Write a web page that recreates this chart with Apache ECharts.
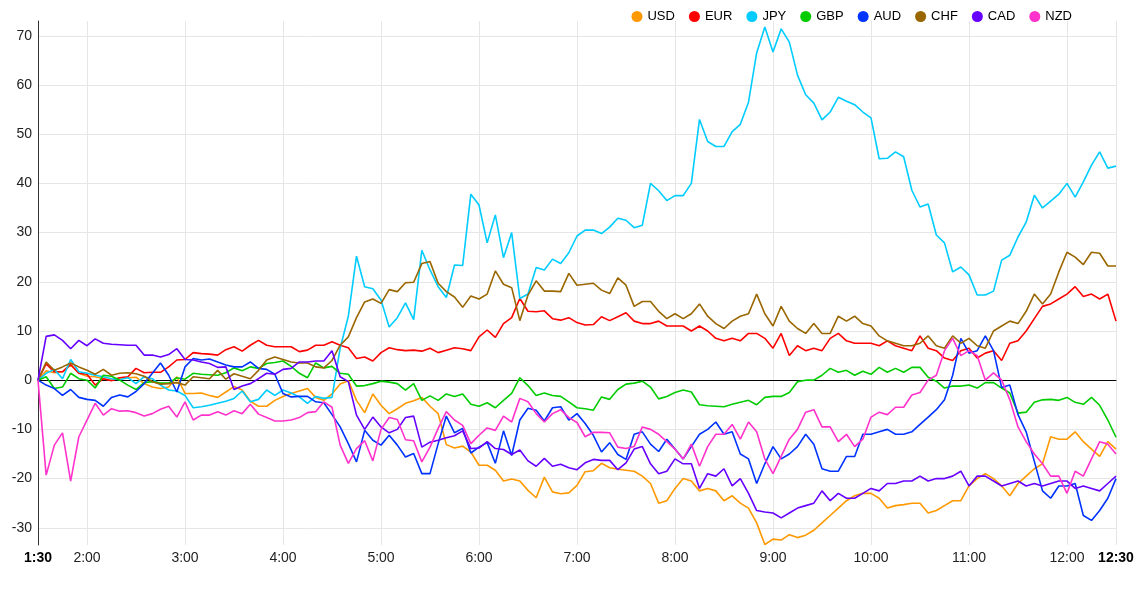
<!DOCTYPE html>
<html>
<head>
<meta charset="utf-8">
<title>Currency strength 1:30 - 12:30</title>
<script src="https://cdn.jsdelivr.net/npm/echarts@6/dist/echarts.min.js"></script>
<style>
  html, body { margin: 0; padding: 0; background: #fff; }
  #main { width: 1137px; height: 594px; }
</style>
</head>
<body>
<div id="main"></div>
<script>
// categories: one point every 5 minutes, 1:30 .. 12:30
const times = []
for (let m = 90; m <= 750; m += 5) {
  times.push(Math.floor(m / 60) + ':' + String(m % 60).padStart(2, '0'))
}

const names = ['USD', 'EUR', 'JPY', 'GBP', 'AUD', 'CHF', 'CAD', 'NZD']
const colors = ['#ff9900', '#ff0000', '#00ccff', '#00cc00', '#0033ff', '#996600', '#6600ff', '#ff33cc']

const usd = [0, 1.9, 1.5, 1.7, 3.1, 1.4, 0.8, 0.7, 0.3, 0, 0.5, 0.5, 0.6,
  -0.7, -1.4, -1.7, -1.4, 0.7, -2.7, -2.7, -2.6, -3.1, -3.5, -2.4, -1.3,
  -2.0, -4.3, -5.3, -5.3, -4.1, -3.3, -2.7, -2.2, -1.7, -3.5, -4.1, -2.8,
  -0.8, -0.1, -4.1, -6.6, -2.8, -5.1, -6.8, -5.8, -4.7, -4.2, -3.5, -5.3,
  -6.8, -13.1, -13.8, -13.4, -14.6, -17.3, -17.3, -18.3, -20.5, -20.1, -20.5, -22.4,
  -23.9, -19.7, -22.7, -23.1, -22.9, -21.4, -18.6, -18.4, -16.9, -17.8, -18.1, -18.3,
  -18.5, -19.5, -21, -25, -24.5, -22, -20, -20.5, -22.5, -22, -22.5, -24.5,
  -23.5, -25, -26, -29, -33.4, -32.3, -32.5, -31.4, -32.0, -31.5, -30.5, -29,
  -27.5, -26, -24.5, -23.5, -23, -23, -24, -26, -25.5, -25.3, -25, -25,
  -27, -26.5, -25.5, -24.5, -24.5, -21.5, -20, -19, -20, -21.5, -23.5, -21,
  -19.5, -18, -17, -11.5, -12, -12, -10.5, -12.5, -14, -15.5, -12.5, -14]

const eur = [0, 3.3, 1.7, 1.7, 3.2, 1.4, 1.2, -1.0, 0.3, -0.1, 0.5, 0.7, 2.4,
  1.5, 1.6, 1.6, 2.7, 4.1, 4.2, 5.6, 5.4, 5.3, 5.1, 6.2, 6.8,
  5.9, 7.1, 8.1, 7.1, 6.8, 6.8, 6.8, 5.8, 6.1, 7.1, 7.1, 7.8,
  7.1, 6.6, 4.4, 4.7, 3.9, 5.6, 6.6, 6.2, 6.0, 6.1, 5.9, 6.5,
  5.6, 6.1, 6.6, 6.4, 6.0, 8.8, 10.2, 8.7, 11.5, 12.7, 16.6, 14.0,
  13.9, 14.1, 12.5, 12.2, 12.7, 11.7, 11.2, 11.3, 12.9, 12.1, 12.9, 13.7,
  12, 11.5, 11.5, 12, 11, 11, 11, 10, 11, 10, 8.5, 8,
  8.5, 8, 9.5, 9.5, 8.5, 6.5, 9.5, 5, 7, 6, 6.5, 6,
  8.5, 9.5, 8, 7.5, 7.5, 7.5, 7, 8, 7, 6.5, 6, 9,
  6.5, 6, 4.5, 4, 6, 6.5, 4.5, 5.5, 6, 4, 7.5, 8,
  10, 12.5, 15, 15.5, 16.5, 17.5, 19, 17, 17.5, 16.5, 17.5, 12]

const jpy = [0, 1.4, 2.2, 0.3, 4.2, 1.7, 1.4, 1.0, 0.7, 0.3, 0.1, 0.5, -0.7,
  0.7, 0.3, -1.0, -2.0, -2.2, -3.1, -5.6, -5.4, -5.1, -4.7, -4.3, -3.7,
  -2.2, -4.4, -3.9, -2.0, -3.1, -2.0, -2.6, -3.4, -4.7, -3.3, -3.7, -3.5,
  6.5, 13, 25.2, 19.0, 18.6, 16.3, 10.8, 12.7, 15.7, 12.3, 26.4, 22.4,
  19.0, 16.8, 23.4, 23.3, 37.8, 35.6, 27.9, 33.6, 24.9, 30.0, 16.6, 17.5,
  22.9, 22.4, 24.6, 23.7, 25.9, 29.3, 30.5, 30.5, 29.8, 31.1, 32.9, 32.5,
  31, 31.5, 40, 38.5, 36.5, 37.5, 37.5, 40, 53, 48.5, 47.5, 47.5,
  50.5, 52, 56.5, 66.5, 71.8, 66.7, 71.4, 68.7, 62, 58, 56.3, 52.9,
  54.5, 57.5, 56.7, 56, 54.5, 53.3, 45, 45.1, 46.4, 45.4, 38.6, 35.2,
  35.8, 29.5, 27.9, 22, 23, 21.4, 17.3, 17.3, 18.1, 24.4, 25.4, 29.1,
  32.1, 37.6, 35, 36.4, 37.8, 40, 37.2, 40.3, 43.7, 46.4, 43.1, 43.5]

const gbp = [0, 0.7, -1.7, -1.4, 1.4, 0.3, 0, -1.6, 1.0, 0.8, 0, -1.0, -1.9,
  -0.5, -0.3, -0.6, -0.6, 0.5, 0.2, 1.4, 1.2, 1.1, 1.0, 1.5, 2.5,
  1.9, 2.7, 2.4, 3.4, 3.6, 3.9, 2.8, 1.4, 0.5, 3.5, 2.5, 2.8,
  1.4, 1.2, -1.2, -1.1, -0.7, -0.2, -0.4, -0.7, -2.0, -0.7, -4.1, -3.2,
  -4.1, -2.8, -3.3, -2.8, -4.9, -5.3, -4.6, -5.6, -4.1, -2.7, 0.5, -1.1,
  -3.1, -2.6, -3.1, -3.3, -4.4, -5.6, -5.8, -6.1, -3.4, -3.9, -1.9, -0.8,
  -0.6, -0.2, -1.4, -3.8, -3.3, -2.5, -2.0, -2.4, -5.0, -5.2, -5.3, -5.4,
  -4.9, -4.5, -4.1, -5.0, -3.5, -3.3, -3.3, -2.5, -0.3, 0, 0, 1.0,
  2.4, 1.6, 2.0, 1.0, 1.8, 1.2, 2.6, 1.6, 2.4, 1.6, 2.6, 2.6,
  0.6, -0.2, -1.6, -1.2, -1.2, -1.0, -1.6, -0.5, -0.5, -1.6, -2.6, -6.7,
  -6.5, -4.5, -4.0, -3.9, -4.1, -3.5, -4.5, -4.9, -3.5, -5.1, -8.1, -11.6]

const aud = [0, -1.0, -1.7, -3.1, -1.9, -3.5, -3.9, -4.1, -5.3, -3.5, -3.0, -3.4, -2.3,
  -0.7, 1.4, 3.5, 1.0, -2.4, 2.7, 4.4, 4.1, 4.3, 3.7, 3.1, 2.7,
  2.7, 3.7, 2.4, 2.2, 1.2, -2.7, -3.4, -3.3, -3.3, -4.4, -4.6, -7.0,
  -9.5, -12.9, -16.6, -10.2, -12.2, -13.2, -11.2, -13.2, -15.6, -14.9, -19.0, -19.0,
  -12.9, -7.3, -10.7, -9.8, -14.8, -13.6, -12.7, -16.9, -10.3, -15.3, -8.1, -5.7,
  -6.1, -8.3, -5.6, -5.4, -8.1, -6.8, -8.8, -11.2, -14.6, -12.7, -15.1, -16.1,
  -11, -10.5, -13, -14.5, -12, -14, -16, -13.5, -11, -10, -8.5, -11,
  -10.5, -15, -16, -21, -17, -13.5, -16, -15, -13.5, -11, -13, -18,
  -18.5, -18.5, -15.5, -15.5, -11, -11, -10.5, -10, -11, -11, -10.5, -9,
  -7.5, -6, -4, 1, 8.5, 5.5, 6, 9, 6, -1.5, -1, -7,
  -10.5, -16.5, -22.5, -24, -21.5, -21.5, -21, -27.5, -28.5, -26.5, -24, -20]

const chf = [0, 3.7, 2.0, 2.7, 3.5, 2.7, 2.0, 1.2, 2.2, 1.0, 1.4, 1.5, 1.3,
  0.8, -0.3, -0.8, -0.7, -0.5, -1.0, 0.7, 0.5, 0.3, 2.0, 0.2, 1.3,
  0.8, 0.3, 2.0, 4.1, 4.7, 4.2, 3.7, 3.5, 3.5, 2.7, 2.5, 4.0,
  7.1, 8.8, 12.7, 15.9, 16.5, 15.6, 18.4, 18.0, 19.8, 19.9, 23.7, 24.1,
  19.7, 18.0, 16.9, 14.8, 17.1, 16.5, 17.5, 22.2, 19.5, 18.8, 12.1, 17.3,
  20.2, 18.1, 18.1, 18.0, 21.7, 19.3, 19.5, 19.7, 18.3, 17.6, 20.8, 19.3,
  15, 16, 16, 14, 12.5, 13.5, 12.5, 13.5, 15.5, 13, 11.5, 10.5,
  12, 13, 13.5, 17.5, 13.5, 11, 15, 12, 10.5, 9.5, 11.5, 9.5,
  9.5, 13, 12, 13, 11.5, 11, 9, 8, 7.5, 7, 7, 7.5,
  9, 7, 6.5, 9, 7.5, 8.5, 7, 6.5, 10, 11, 12, 11.5,
  14, 17.5, 15.5, 17.5, 22, 26, 25, 23.5, 26, 25.8, 23.2, 23.2]

const cad = [0, 8.9, 9.2, 8.1, 6.4, 8.1, 7.0, 8.4, 7.5, 7.3, 7.2, 7.1, 7.1,
  5.1, 5.1, 4.7, 5.2, 6.4, 4.2, 4.1, 3.7, 3.4, 2.6, 2.7, -1.9,
  -1.2, -0.7, 0.3, 1.4, 1.2, 2.2, 2.4, 3.7, 3.7, 3.9, 3.9, 6.0,
  0.7, -0.3, -7.1, -10.0, -7.5, -9.5, -10.7, -10.0, -7.6, -7.3, -13.6, -12.6,
  -12.2, -11.7, -11.3, -10.3, -13.9, -13.8, -12.5, -13.9, -14.1, -15.1, -14.2, -16.4,
  -17.5, -15.9, -17.5, -17.1, -17.8, -18.2, -16.8, -16.1, -16.3, -16.3, -18.2, -16.8,
  -14, -13.5, -17, -19, -18.5, -16, -17, -17, -22, -19, -19.5, -18,
  -21.5, -20, -23, -26.5, -26.8, -27, -28, -27, -26, -25.5, -25, -22.5,
  -24.5, -23, -24, -24, -23, -22, -22.5, -21, -21, -20.5, -20.5, -19.5,
  -20.5, -20, -20, -19.5, -18.5, -21.5, -19.5, -19.5, -20.5, -21.5, -21, -20.5,
  -21.5, -21, -21.5, -21, -20.5, -20.5, -22, -21.5, -22, -22.5, -21, -19.5]

const nzd = [0, -19.3, -13.2, -10.7, -20.5, -11.5, -8.1, -4.7, -7.1, -5.8, -6.3, -6.2, -6.6,
  -7.3, -6.8, -5.9, -5.3, -7.5, -4.4, -8.1, -7.1, -7.1, -6.4, -7.1, -6.2,
  -6.8, -4.9, -6.9, -7.6, -8.3, -8.3, -8.1, -7.6, -6.6, -6.4, -4.4, -5.5,
  -13.2, -16.9, -13.9, -12.3, -16.4, -10.0, -7.6, -8.0, -12.1, -12.3, -16.6, -13.6,
  -9.8, -6.4, -8.1, -9.2, -12.9, -11.2, -9.7, -10.2, -7.3, -8.5, -3.7, -4.4,
  -6.8, -8.5, -6.8, -6.0, -7.6, -8.6, -11.5, -10.6, -10.6, -10.7, -13.6, -13.9,
  -13.5, -9.5, -10, -11, -12.5, -14, -16, -13, -17.5, -13.5, -11, -11,
  -9, -12, -8.5, -10.5, -16, -19, -15.5, -12, -10, -6.5, -6, -9.5,
  -9.5, -12.5, -11, -13.5, -12, -7.5, -6.5, -7, -5.5, -5.5, -3, -2.5,
  0, 1, 6, 8.5, 5, 6, 5, 0, 1.5, 0, -4, -9.5,
  -12.5, -15, -17, -19.5, -19.5, -23, -18.5, -19.5, -16, -12.5, -13, -15]

const values = [usd, eur, jpy, gbp, aud, chf, cad, nzd]

const font = 'Liberation Sans, Arial, sans-serif'
const last = times.length - 1
const isHour = i => (i - 6) % 12 === 0

const chart = echarts.init(document.getElementById('main'))

chart.setOption({
  animation: false,
  textStyle: { fontFamily: font },
  legend: {
    top: 5,
    right: 60,
    icon: 'circle',
    itemWidth: 11,
    itemHeight: 11,
    itemGap: 14,
    textStyle: { fontSize: 13, color: '#000', fontFamily: font },
    data: names
  },
  grid: { left: 38, right: 21, top: 21, bottom: 49 },
  xAxis: [
    {
      type: 'category',
      data: times,
      boundaryGap: false,
      axisLine: { show: false, onZero: false },
      axisTick: { show: false },
      axisLabel: {
        interval: i => i === 0 || i === last || isHour(i),
        margin: 6,
        fontSize: 14,
        color: '#222',
        formatter: (v, i) => (i === 0 || i === last) ? '{b|' + v + '}' : v,
        rich: { b: { fontWeight: 'bold', fontSize: 14, color: '#000' } }
      },
      splitLine: {
        show: true,
        interval: i => isHour(i) || i === last,
        lineStyle: { color: '#e6e6e6', width: 1 }
      }
    },
    {
      // black zero line
      type: 'category',
      data: times,
      boundaryGap: false,
      position: 'bottom',
      axisLine: { show: true, onZero: true, lineStyle: { color: '#000', width: 1 } },
      axisTick: { show: false },
      axisLabel: { show: false },
      splitLine: { show: false }
    }
  ],
  yAxis: {
    type: 'value',
    min: -33.5,
    max: 73,
    splitNumber: 10,
    axisLine: { show: true, lineStyle: { color: '#333' } },
    axisTick: { show: false },
    axisLabel: { fontSize: 14, color: '#222', margin: 6, showMinLabel: false, showMaxLabel: false },
    splitLine: { lineStyle: { color: '#e6e6e6' }, showMinLine: false, showMaxLine: false }
  },
  series: names.map((n, k) => ({
    name: n,
    type: 'line',
    data: values[k],
    color: colors[k],
    symbol: 'none',
    showSymbol: false,
    lineStyle: { width: 1.6, color: colors[k] },
    emphasis: { disabled: true }
  }))
})
</script>
</body>
</html>
